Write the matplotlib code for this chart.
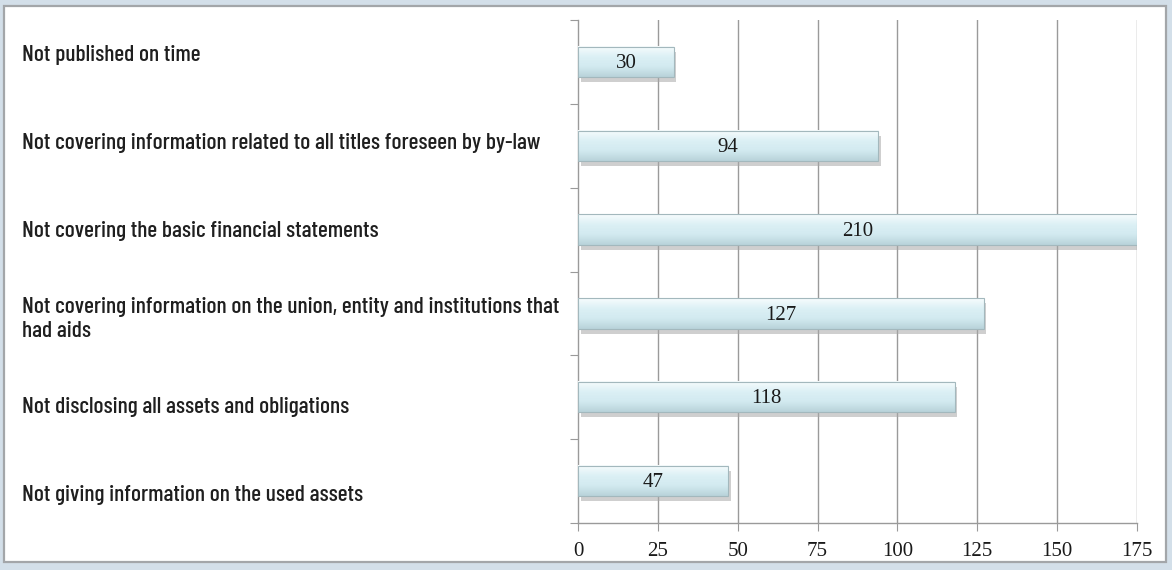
import numpy as np
import matplotlib
matplotlib.use("Agg")
import matplotlib.pyplot as plt
from matplotlib.patches import Rectangle

categories = [
    "Not published on time",
    "Not covering information related to all titles foreseen by by-law",
    "Not covering the basic financial statements",
    "Not covering information on the union, entity and institutions that\nhad aids",
    "Not disclosing all assets and obligations",
    "Not giving information on the used assets",
]
values = [30, 94, 210, 127, 118, 47]
xticks = [0, 25, 50, 75, 100, 125, 150, 175]

W, H = 1172, 570
fig = plt.figure(figsize=(W / 100, H / 100), dpi=100)
fig.patch.set_facecolor("#d3dfe9")
# white panel with gray frame
fig.patches.append(Rectangle((4 / W, 1 - 562 / H), 1162 / W, 556 / H,
                             transform=fig.transFigure, facecolor="white",
                             edgecolor="#a3a6a9", linewidth=1.6, zorder=-10))

ax = fig.add_axes([578 / W, 1 - 523 / H, 559 / W, 503 / H])
ax.set_facecolor("none")
xmax = 175

for s in ["top", "right"]:
    ax.spines[s].set_visible(False)
for s in ["left", "bottom"]:
    ax.spines[s].set_color("#9a9a9a")
    ax.spines[s].set_linewidth(1)

for t in xticks[1:]:
    ax.axvline(t, color="#9a9a9a", linewidth=1, zorder=1)

# bars: shadow + vertical gradient + thin edge
grad = np.linspace(0, 1, 50)
cmap = matplotlib.colors.LinearSegmentedColormap.from_list(
    "bar", ["#f7fcfd", "#dcf0f5", "#d2eaf0", "#b9d3da"])
h = 0.36
for i, v in enumerate(values):
    w = min(v, xmax)
    ax.add_patch(Rectangle((0.8, i - h / 2 + 0.06), w, h, facecolor="#a8a8a8",
                           edgecolor="none", alpha=0.55, zorder=2))
    ax.imshow(grad[:, None], cmap=cmap, aspect="auto",
              extent=(0, w, i + h / 2, i - h / 2), zorder=3)
    ax.add_patch(Rectangle((0, i - h / 2), w, h, facecolor="none",
                           edgecolor="#a3b8bd", linewidth=0.8, zorder=4))
    ax.text(w / 2, i + 0.02, str(v), ha="center", va="center",
            family="Liberation Serif", fontsize=15, color="#1a1a1a", zorder=5)

ax.set_xlim(0, xmax)
ax.set_ylim(len(categories) - 0.5, -0.5)
ax.set_aspect("auto")

ax.set_xticks(xticks)
ax.set_xticklabels([str(t) for t in xticks], family="Liberation Serif",
                   fontsize=15, color="#1a1a1a")
ax.tick_params(axis="x", length=6, color="#9a9a9a", pad=8)
ax.set_yticks(np.arange(len(categories) + 1) - 0.5)
ax.set_yticklabels([])
ax.tick_params(axis="y", length=6, color="#9a9a9a")

# category labels sit in their own text column on the left
label_y = np.linspace(1 - 55 / H, 1 - 495 / H, len(categories))
for c, y in zip(categories, label_y):
    fig.text(22 / W, y, c, ha="left", va="center",
             family="Barlow Condensed", fontsize=16.9, fontweight=500,
             color="#1f1f1f", linespacing=1.2)

fig.savefig("out.png", dpi=100, facecolor=fig.get_facecolor())
